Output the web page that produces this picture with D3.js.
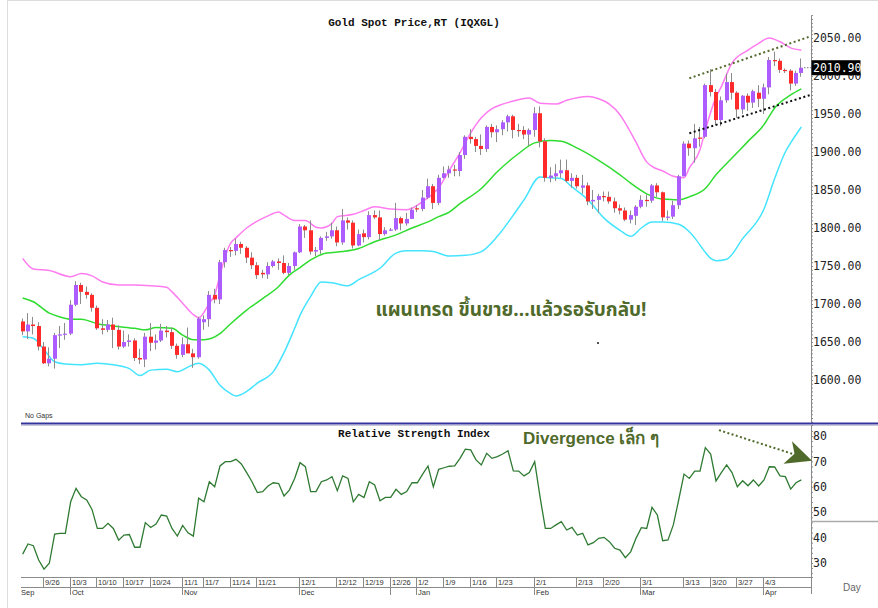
<!DOCTYPE html>
<html>
<head>
<meta charset="utf-8">
<script src="https://cdn.jsdelivr.net/npm/d3@7/dist/d3.min.js"></script>
<style>
  body { margin: 0; background: #fff; }
  svg { display: block; }
  .axis text { font-family: "DejaVu Sans Mono", monospace; font-size: 11.5px; fill: #222; }
  .axis path, .axis line { stroke: #8a8a8a; }
  .xlab { font-family: "Liberation Sans", Arial, sans-serif; font-size: 7.5px; fill: #333; }
</style>
</head>
<body>
<svg class="chart" width="878" height="608"></svg>
<script>
// trading days on the chart: every weekday, "No Gaps"
var firstDay = new Date(2022, 8, 20);
var lastDay = new Date(2023, 3, 12);

// daily OHLC, one row per month (Sep .. Apr)
var open = [
  1677, 1664, 1673, 1671, 1644, 1622, 1628, 1659, 1660,
  1661, 1699, 1725, 1716, 1712, 1695, 1668, 1666, 1673, 1666, 1644, 1650, 1652, 1629, 1627, 1657, 1649, 1652, 1665, 1663, 1645,
  1633, 1647, 1635, 1630, 1676, 1680, 1712, 1706, 1755, 1771, 1770, 1779, 1774, 1761, 1751, 1741, 1739, 1750, 1756, 1754, 1741, 1750,
  1768, 1802, 1797, 1769, 1771, 1787, 1789, 1797, 1781, 1810, 1807, 1777, 1793, 1788, 1817, 1814, 1792, 1798, 1798, 1813, 1806, 1812,
  1826, 1825, 1840, 1855, 1833, 1866, 1872, 1877, 1875, 1896, 1920, 1917, 1908, 1904, 1933, 1926, 1930, 1939, 1947, 1929, 1929, 1923,
  1929, 1951, 1914, 1866, 1868, 1872, 1876, 1862, 1866, 1853, 1856, 1835, 1837, 1842, 1841, 1835, 1826, 1823, 1811, 1816,
  1828, 1837, 1836, 1856, 1847, 1814, 1815, 1830, 1868, 1911, 1905, 1919, 1920, 1988, 1979, 1942, 1968, 1992, 1978, 1956, 1974, 1965, 1978,
  1970, 1985, 2021, 2020, 2008, 2007, 1990, 2004
];
var high = [
  1681, 1688, 1683, 1676, 1650, 1643, 1662, 1671, 1675,
  1705, 1730, 1728, 1723, 1714, 1698, 1680, 1679, 1682, 1672, 1665, 1660, 1655, 1641, 1662, 1675, 1660, 1674, 1671, 1669, 1648,
  1656, 1669, 1641, 1683, 1685, 1717, 1720, 1758, 1774, 1775, 1786, 1782, 1776, 1768, 1755, 1745, 1755, 1758, 1760, 1764, 1754, 1769,
  1805, 1804, 1810, 1775, 1789, 1795, 1807, 1802, 1825, 1814, 1810, 1798, 1798, 1822, 1823, 1823, 1801, 1800, 1833, 1815, 1820, 1827,
  1830, 1850, 1865, 1858, 1870, 1881, 1882, 1883, 1900, 1922, 1930, 1920, 1923, 1935, 1937, 1935, 1942, 1949, 1949, 1937, 1934, 1931,
  1959, 1960, 1918, 1880, 1884, 1890, 1890, 1872, 1870, 1870, 1860, 1850, 1845, 1848, 1848, 1840, 1831, 1827, 1823, 1830,
  1843, 1844, 1858, 1859, 1848, 1823, 1836, 1870, 1914, 1915, 1937, 1933, 1990, 2009, 1983, 1973, 2003, 2004, 1980, 1975, 1977, 1982, 1988,
  1990, 2025, 2032, 2023, 2010, 2009, 2007, 2023
];
var low = [
  1659, 1654, 1660, 1639, 1621, 1618, 1615, 1642, 1653,
  1659, 1697, 1700, 1707, 1690, 1666, 1660, 1663, 1642, 1640, 1642, 1644, 1625, 1621, 1617, 1638, 1640, 1650, 1656, 1641, 1628,
  1630, 1637, 1616, 1628, 1666, 1670, 1701, 1700, 1748, 1762, 1764, 1766, 1754, 1746, 1733, 1734, 1733, 1748, 1745, 1739, 1738, 1745,
  1767, 1787, 1765, 1763, 1766, 1783, 1786, 1776, 1778, 1798, 1773, 1776, 1781, 1785, 1812, 1784, 1790, 1796, 1796, 1797, 1803, 1812,
  1821, 1822, 1838, 1825, 1830, 1865, 1866, 1868, 1868, 1891, 1911, 1900, 1896, 1900, 1919, 1913, 1922, 1927, 1918, 1920, 1917, 1908,
  1920, 1906, 1861, 1860, 1862, 1866, 1860, 1853, 1852, 1845, 1830, 1825, 1820, 1835, 1832, 1820, 1818, 1809, 1806, 1804,
  1826, 1828, 1833, 1841, 1809, 1810, 1812, 1825, 1868, 1895, 1886, 1907, 1918, 1973, 1935, 1934, 1965, 1969, 1945, 1950, 1954, 1958, 1959,
  1950, 1976, 2013, 2004, 2004, 1981, 1987, 1999
];
var close = [
  1664, 1673, 1671, 1644, 1622, 1628, 1659, 1660, 1661,
  1699, 1725, 1716, 1712, 1695, 1668, 1666, 1673, 1666, 1644, 1650, 1652, 1629, 1627, 1657, 1649, 1652, 1665, 1663, 1645, 1633,
  1647, 1635, 1630, 1681, 1680, 1712, 1706, 1755, 1771, 1770, 1779, 1774, 1761, 1751, 1738, 1739, 1750, 1756, 1754, 1741, 1750, 1768,
  1802, 1797, 1769, 1771, 1787, 1789, 1797, 1781, 1810, 1807, 1777, 1792, 1788, 1817, 1814, 1792, 1797, 1798, 1813, 1806, 1812, 1824,
  1825, 1840, 1855, 1833, 1866, 1872, 1877, 1876, 1896, 1920, 1917, 1908, 1904, 1933, 1926, 1930, 1939, 1947, 1929, 1928, 1923, 1929,
  1951, 1914, 1866, 1869, 1872, 1876, 1862, 1866, 1855, 1856, 1835, 1837, 1842, 1841, 1835, 1826, 1823, 1811, 1817, 1828,
  1837, 1836, 1856, 1847, 1814, 1815, 1830, 1868, 1911, 1905, 1918, 1918, 1988, 1979, 1942, 1968, 1992, 1978, 1956, 1974, 1965, 1980, 1970,
  1985, 2021, 2020, 2008, 2007, 1990, 2004, 2010.90
];

// RSI, one value per bar
var rsi = [
  33.5, 37.5, 36.8, 31.2, 27.6, 29.9, 41.4, 41.7, 41.7,
  54.1, 59.4, 56.1, 54.8, 51.1, 43.6, 43.6, 45.6, 43.6, 39, 41, 41.2, 36.2, 36.2, 45.9, 44, 45.3, 48.9, 48.5, 43.6, 40.6,
  44.8, 41.9, 40.6, 55.5, 54.1, 62, 60, 68.2, 69.9, 69.9, 70.8, 69, 65.6, 62, 57.7, 58.1, 60.3, 61.6, 61.3, 56.4, 58.7, 63.3,
  69.5, 67.9, 58.1, 58.1, 62, 62.7, 64, 58.5, 64.3, 63.3, 54.1, 57, 55.8, 62, 60.7, 54.5, 55.8, 55.8, 59, 57, 58.1, 61.6,
  61.6, 65, 68.2, 60, 66.9, 67.5, 68.1, 68.2, 71.2, 74.8, 74.5, 70.6, 68.6, 73.2, 71.2, 71.9, 72.9, 74.2, 66.3, 66.2, 64.3, 65.6,
  69.9, 56.1, 43.6, 43.6, 45, 46.3, 43, 44, 41, 41.7, 37.1, 38, 39.7, 40.1, 38.4, 35.8, 35.1, 32.1, 34.4, 39.7,
  43.9, 43.6, 51.9, 48.9, 38.8, 39.1, 45, 54.8, 65, 63.3, 66.2, 66.2, 75.4, 72.9, 62.3, 65.6, 68.6, 65.6, 60, 62.4, 60.4, 62.7, 60.3,
  62.7, 67.9, 67.8, 64.3, 64, 59.1, 61.6, 62.7
];

// Bollinger bands at sample days
var bbUpper = [
  ['2022-09-20', 1760], ['2022-09-22', 1746], ['2022-09-27', 1744], ['2022-10-03', 1736], ['2022-10-05', 1740],
  ['2022-10-07', 1737], ['2022-10-11', 1729], ['2022-10-14', 1725], ['2022-10-19', 1725], ['2022-10-24', 1724],
  ['2022-10-27', 1722], ['2022-10-28', 1716], ['2022-11-01', 1701], ['2022-11-03', 1686], ['2022-11-04', 1682],
  ['2022-11-08', 1701], ['2022-11-09', 1712], ['2022-11-10', 1738], ['2022-11-11', 1763], ['2022-11-14', 1780],
  ['2022-11-15', 1787], ['2022-11-17', 1800], ['2022-11-21', 1809], ['2022-11-23', 1816], ['2022-11-25', 1821],
  ['2022-11-28', 1817], ['2022-11-30', 1810], ['2022-12-02', 1810], ['2022-12-06', 1801], ['2022-12-07', 1800],
  ['2022-12-09', 1806], ['2022-12-12', 1815], ['2022-12-15', 1818], ['2022-12-19', 1823], ['2022-12-21', 1828],
  ['2022-12-26', 1825], ['2022-12-29', 1824], ['2022-12-30', 1826], ['2023-01-03', 1835], ['2023-01-06', 1853],
  ['2023-01-10', 1876], ['2023-01-12', 1899], ['2023-01-16', 1925], ['2023-01-18', 1945], ['2023-01-20', 1957],
  ['2023-01-24', 1963], ['2023-01-26', 1967], ['2023-01-31', 1971], ['2023-02-02', 1964], ['2023-02-07', 1963],
  ['2023-02-09', 1968], ['2023-02-15', 1973], ['2023-02-17', 1970], ['2023-02-21', 1963], ['2023-02-23', 1949],
  ['2023-02-24', 1938], ['2023-02-28', 1913], ['2023-03-02', 1887], ['2023-03-03', 1881], ['2023-03-07', 1875],
  ['2023-03-09', 1868], ['2023-03-13', 1866], ['2023-03-14', 1879], ['2023-03-16', 1903], ['2023-03-17', 1929],
  ['2023-03-21', 1972], ['2023-03-22', 1986], ['2023-03-24', 2017], ['2023-03-29', 2034], ['2023-03-31', 2043],
  ['2023-04-04', 2050], ['2023-04-06', 2045], ['2023-04-10', 2037], ['2023-04-12', 2034]
];
var bbMiddle = [
  ['2022-09-20', 1708], ['2022-09-22', 1703], ['2022-09-27', 1688], ['2022-09-29', 1683], ['2022-10-03', 1680],
  ['2022-10-05', 1680], ['2022-10-10', 1674], ['2022-10-13', 1671], ['2022-10-19', 1668], ['2022-10-21', 1666],
  ['2022-10-25', 1669], ['2022-10-28', 1668], ['2022-11-01', 1659], ['2022-11-03', 1653], ['2022-11-07', 1653],
  ['2022-11-10', 1661], ['2022-11-14', 1674], ['2022-11-17', 1692], ['2022-11-22', 1707], ['2022-11-25', 1723],
  ['2022-11-29', 1738], ['2022-12-01', 1748], ['2022-12-05', 1758], ['2022-12-08', 1767], ['2022-12-13', 1769],
  ['2022-12-16', 1773], ['2022-12-21', 1782], ['2022-12-27', 1791], ['2022-12-30', 1800], ['2023-01-04', 1808],
  ['2023-01-06', 1815], ['2023-01-10', 1821], ['2023-01-12', 1832], ['2023-01-18', 1852], ['2023-01-23', 1874],
  ['2023-01-27', 1898], ['2023-02-01', 1912], ['2023-02-06', 1915], ['2023-02-08', 1914], ['2023-02-13', 1905],
  ['2023-02-17', 1889], ['2023-02-23', 1870], ['2023-02-27', 1859], ['2023-03-02', 1845], ['2023-03-07', 1838],
  ['2023-03-10', 1837], ['2023-03-14', 1841], ['2023-03-17', 1852], ['2023-03-21', 1870], ['2023-03-24', 1892],
  ['2023-03-29', 1914], ['2023-04-03', 1936], ['2023-04-05', 1958], ['2023-04-10', 1975], ['2023-04-12', 1983]
];
var bbLower = [
  ['2022-09-20', 1657], ['2022-09-22', 1655], ['2022-09-26', 1640], ['2022-09-28', 1624], ['2022-09-30', 1621],
  ['2022-10-05', 1620], ['2022-10-10', 1622], ['2022-10-13', 1620], ['2022-10-18', 1615], ['2022-10-20', 1606],
  ['2022-10-24', 1613], ['2022-10-27', 1614], ['2022-10-31', 1611], ['2022-11-02', 1617], ['2022-11-04', 1622],
  ['2022-11-08', 1613], ['2022-11-10', 1593], ['2022-11-14', 1582], ['2022-11-15', 1579], ['2022-11-17', 1585],
  ['2022-11-21', 1596], ['2022-11-24', 1611], ['2022-11-28', 1636], ['2022-11-30', 1668], ['2022-12-01', 1685],
  ['2022-12-05', 1710], ['2022-12-07', 1729], ['2022-12-09', 1728], ['2022-12-14', 1724], ['2022-12-16', 1732],
  ['2022-12-22', 1747], ['2022-12-27', 1767], ['2022-12-29', 1770], ['2023-01-03', 1770], ['2023-01-05', 1769],
  ['2023-01-10', 1763], ['2023-01-13', 1764], ['2023-01-18', 1769], ['2023-01-23', 1789], ['2023-01-26', 1817],
  ['2023-01-30', 1837], ['2023-02-02', 1867], ['2023-02-06', 1866], ['2023-02-08', 1865], ['2023-02-10', 1854],
  ['2023-02-15', 1837], ['2023-02-20', 1813], ['2023-02-23', 1797], ['2023-02-27', 1789], ['2023-03-01', 1800],
  ['2023-03-03', 1808], ['2023-03-07', 1808], ['2023-03-10', 1805], ['2023-03-14', 1795], ['2023-03-15', 1787],
  ['2023-03-17', 1768], ['2023-03-20', 1760], ['2023-03-21', 1757], ['2023-03-23', 1759], ['2023-03-28', 1786],
  ['2023-04-03', 1825], ['2023-04-05', 1865], ['2023-04-07', 1900], ['2023-04-10', 1912], ['2023-04-12', 1933]
];

// hand-drawn channel lines, [day, price]
var channelTop = [['2023-03-14', 1997], ['2023-04-12', 2048]];
var channelBottom = [['2023-03-14', 1924.6], ['2023-04-12', 1971.3]];

var priceTicks = [1600, 1650, 1700, 1750, 1800, 1850, 1900, 1950, 2000, 2050];
var rsiTicks = [30, 40, 50, 60, 70, 80];
var dayTicks = ['2022-09-26', '2022-10-03', '2022-10-10', '2022-10-17', '2022-10-24', '2022-11-01', '2022-11-07',
  '2022-11-14', '2022-11-21', '2022-12-01', '2022-12-12', '2022-12-19', '2022-12-26', '2023-01-02', '2023-01-09',
  '2023-01-16', '2023-01-23', '2023-02-01', '2023-02-13', '2023-02-20', '2023-03-01', '2023-03-13', '2023-03-20',
  '2023-03-27', '2023-04-03'];
var monthTicks = ['2022-10-03', '2022-11-01', '2022-12-01', '2023-01-02', '2023-02-01', '2023-03-01', '2023-04-03'];

var svg = d3.select('.chart');
var olive = '#4f6a2a';

var parse = d3.timeParse('%Y-%m-%d');
var key = d3.timeFormat('%Y-%m-%d');
var days = d3.timeDay.range(firstDay, d3.timeDay.offset(lastDay, 1))
  .filter(function(d) { return d.getDay() !== 0 && d.getDay() !== 6; });
var keys = days.map(key);
var bars = keys.map(function(k, i) {
  return { key: k, o: open[i], h: high[i], l: low[i], c: close[i], rsi: rsi[i] };
});

var x = d3.scaleBand().domain(keys).range([20, 804]);
function xc(k) { return x(k) + x.bandwidth() / 2; }
var y = d3.scaleLinear().domain([1544.74, 2080.26]).range([422, 15]);
var yr = d3.scaleLinear().domain([24.49, 84.33]).range([577, 425]);
var axisX = 811;

// frame
svg.append('rect').attr('x', 7.5).attr('y', 0.5).attr('width', 880).attr('height', 620)
  .attr('fill', 'none').attr('stroke', '#dcdcdc');

// title
svg.append('text')
  .attr('x', 414).attr('y', 26)
  .attr('text-anchor', 'middle')
  .style('font-family', '"Liberation Mono", monospace').style('font-size', '11px').style('font-weight', 'bold')
  .style('fill', '#111')
  .text('Gold Spot Price,RT (IQXGL)');

// bollinger bands
function bandLine(data, color) {
  svg.append('path')
    .datum(data)
    .attr('fill', 'none')
    .attr('stroke', color)
    .attr('stroke-width', 1.5)
    .attr('d', d3.line()
      .x(function(d) { return xc(d[0]); })
      .y(function(d) { return y(d[1]); })
      .curve(d3.curveMonotoneX));
}
bandLine(bbUpper, '#ff7cf0');
bandLine(bbLower, '#44e4ff');
bandLine(bbMiddle, '#2fdc2f');

// candles
var candle = svg.append('g').selectAll('g').data(bars).enter().append('g');
candle.append('line')
  .attr('x1', function(d) { return Math.round(xc(d.key)) - 0.5; })
  .attr('x2', function(d) { return Math.round(xc(d.key)) - 0.5; })
  .attr('y1', function(d) { return y(d.h); })
  .attr('y2', function(d) { return y(d.l); })
  .attr('stroke', '#8c8c8c')
  .attr('stroke-width', 1);
candle.append('rect')
  .attr('x', function(d) { return Math.round(xc(d.key)) - 2; })
  .attr('width', 4)
  .attr('y', function(d) { return y(Math.max(d.o, d.c)); })
  .attr('height', function(d) { return Math.max(1.2, Math.abs(y(d.o) - y(d.c))); })
  .attr('fill', function(d) { return d.c >= d.o ? '#ad5cff' : '#ff2b2b'; });

// channel lines, extended to the axis
function channel(pts, color) {
  var x0 = xc(pts[0][0]), y0 = y(pts[0][1]);
  var x1 = xc(pts[1][0]), y1 = y(pts[1][1]);
  var slope = (y1 - y0) / (x1 - x0);
  svg.append('line')
    .attr('x1', x0).attr('y1', y0)
    .attr('x2', axisX).attr('y2', y0 + slope * (axisX - x0))
    .attr('stroke', color).attr('stroke-width', 2)
    .attr('stroke-dasharray', '2,2.6');
}
channel(channelTop, '#556b2f');
channel(channelBottom, '#111');

// last price marker
var lastBar = bars[bars.length - 1];
svg.append('line')
  .attr('x1', xc(lastBar.key) + 3).attr('x2', axisX)
  .attr('y1', y(lastBar.c)).attr('y2', y(lastBar.c))
  .attr('stroke', '#333').attr('stroke-dasharray', '1,2');

// price axis
svg.append('g').attr('class', 'axis')
  .attr('transform', 'translate(' + axisX + ',0)')
  .call(d3.axisRight(y).tickValues(d3.range(1545, 2080, 5)).tickSize(2).tickFormat(''));
svg.append('g').attr('class', 'axis')
  .attr('transform', 'translate(' + axisX + ',0)')
  .call(d3.axisRight(y).tickValues(priceTicks).tickSize(0).tickPadding(2)
    .tickFormat(d3.format('.2f')))
  .call(function(g) { g.select('.domain').remove(); });

svg.append('rect')
  .attr('x', axisX + 0.5).attr('y', y(lastBar.c) - 7.5)
  .attr('width', 49).attr('height', 15)
  .attr('fill', '#000');
svg.append('text')
  .attr('x', axisX + 2).attr('y', y(lastBar.c) + 4)
  .style('font-family', '"DejaVu Sans Mono", monospace').style('font-size', '11.5px')
  .style('fill', '#fff')
  .text(d3.format('.2f')(lastBar.c));

// annotations in the price panel
svg.append('text')
  .attr('x', 511).attr('y', 316)
  .attr('text-anchor', 'middle')
  .style('font-family', '"Noto Sans Thai", Tahoma, "Noto Sans", sans-serif')
  .style('font-size', '19px').style('font-weight', 'bold')
  .style('fill', olive)
  .text('แผนเทรด ขึ้นขาย...แล้วรอรับกลับ!');
svg.append('circle').attr('cx', 598).attr('cy', 343).attr('r', 0.9).attr('fill', '#000');

svg.append('text')
  .attr('x', 25).attr('y', 418)
  .style('font-family', '"Liberation Sans", Arial, sans-serif').style('font-size', '7px')
  .style('fill', '#333')
  .text('No Gaps');

// panel separator
svg.append('line').attr('x1', 21).attr('x2', 878).attr('y1', 423.5).attr('y2', 423.5)
  .attr('stroke', '#34349c').attr('stroke-width', 2);
svg.append('line').attr('x1', 21).attr('x2', 878).attr('y1', 425.5).attr('y2', 425.5)
  .attr('stroke', '#c8c8d8').attr('stroke-width', 1);

// RSI panel
svg.append('text')
  .attr('x', 414).attr('y', 437)
  .attr('text-anchor', 'middle')
  .style('font-family', '"Liberation Mono", monospace').style('font-size', '11px').style('font-weight', 'bold')
  .style('fill', '#111')
  .text('Relative Strength Index');

svg.append('path')
  .datum(bars)
  .attr('fill', 'none')
  .attr('stroke', '#2f7a32')
  .attr('stroke-width', 1.3)
  .attr('d', d3.line()
    .x(function(d) { return xc(d.key); })
    .y(function(d) { return yr(d.rsi); }));

svg.append('g').attr('class', 'axis')
  .attr('transform', 'translate(' + axisX + ',0)')
  .call(d3.axisRight(yr).tickValues(d3.range(26, 84, 2)).tickSize(2).tickFormat(''));
svg.append('g').attr('class', 'axis')
  .attr('transform', 'translate(' + axisX + ',0)')
  .call(d3.axisRight(yr).tickValues(rsiTicks).tickSize(0).tickPadding(2).tickFormat(d3.format('d')))
  .call(function(g) { g.select('.domain').remove(); });
svg.append('line').attr('x1', axisX + 0.5).attr('x2', axisX + 0.5).attr('y1', 577).attr('y2', 594)
  .attr('stroke', '#8a8a8a');
svg.append('line').attr('x1', axisX).attr('x2', 878).attr('y1', 521.5).attr('y2', 521.5)
  .attr('stroke', '#aaa').attr('stroke-width', 1.5);

// divergence note and arrow
svg.append('text')
  .attr('x', 523).attr('y', 444)
  .style('font-family', '"Liberation Sans", Arial, sans-serif')
  .style('font-size', '17px').style('font-weight', 'bold')
  .style('fill', olive)
  .text('Divergence เล็ก ๆ');
var ax0 = xc('2023-03-21') + 3, ay0 = yr(82.3);
var tipX = axisX + 1, tipY = yr(70.3);
svg.append('line')
  .attr('x1', ax0).attr('y1', ay0)
  .attr('x2', tipX - 17).attr('y2', tipY - 6)
  .attr('stroke', olive).attr('stroke-width', 2).attr('stroke-dasharray', '2,2.4');
svg.append('polygon')
  .attr('points', [[tipX - 20, tipY - 19.5], [tipX, tipY], [tipX - 28.5, tipY + 3], [tipX - 17.5, tipY - 7]]
    .map(function(p) { return p.join(','); }).join(' '))
  .attr('fill', olive);

// x axis: days and months
var xaxis = svg.append('g');
[577.5, 587.5].forEach(function(yy) {
  xaxis.append('line').attr('x1', 21).attr('x2', axisX).attr('y1', yy).attr('y2', yy)
    .attr('stroke', '#8a8a8a');
});
var dayFmt = d3.timeFormat('%-m/%-d');
var monFmt = d3.timeFormat('%b');
dayTicks.forEach(function(k) {
  var tx = Math.round(xc(k)) - 0.5;
  xaxis.append('line').attr('x1', tx).attr('x2', tx).attr('y1', 577.5).attr('y2', 587.5)
    .attr('stroke', '#8a8a8a');
  xaxis.append('text').attr('class', 'xlab').attr('x', tx + 1.5).attr('y', 585).text(dayFmt(parse(k)));
});
xaxis.append('text').attr('class', 'xlab').attr('x', 21).attr('y', 595).text(monFmt(days[0]));
monthTicks.forEach(function(k) {
  var tx = Math.round(xc(k)) - 0.5;
  xaxis.append('line').attr('x1', tx).attr('x2', tx).attr('y1', 587.5).attr('y2', 595)
    .attr('stroke', '#8a8a8a');
  xaxis.append('text').attr('class', 'xlab').attr('x', tx + 1.5).attr('y', 595).text(monFmt(parse(k)));
});
var yearTick = Math.round(xc('2022-12-26')) - 0.5;
xaxis.append('line').attr('x1', yearTick).attr('x2', yearTick).attr('y1', 587.5).attr('y2', 595)
  .attr('stroke', '#8a8a8a');

svg.append('text')
  .attr('x', 843).attr('y', 591)
  .style('font-family', '"Liberation Sans", Arial, sans-serif').style('font-size', '10px')
  .style('fill', '#666')
  .text('Day');
</script>
</body>
</html>
